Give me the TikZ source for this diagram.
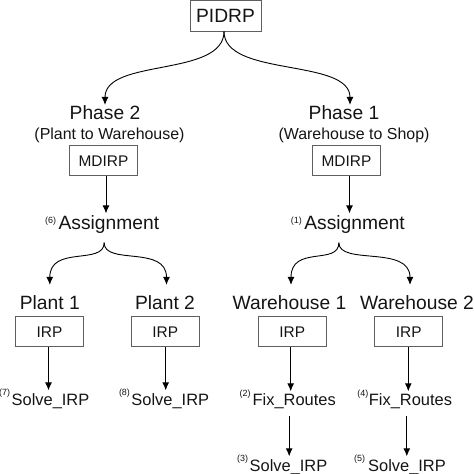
\documentclass[tikz,border=0pt]{standalone}
\usepackage{fontspec}
\setmainfont{Liberation Sans}
\usetikzlibrary{arrows.meta}
\newcommand{\FBig}{\fontsize{19.3}{23}\selectfont}
\newcommand{\FMid}{\fontsize{16}{19}\selectfont}
\newcommand{\FBox}{\fontsize{15.5}{18}\selectfont}
\newcommand{\FSol}{\fontsize{16.5}{19}\selectfont}
\newcommand{\suplab}[2]{\raisebox{#1}{\fontsize{9}{9}\selectfont #2}}
\definecolor{boxgray}{RGB}{95,95,95}
\definecolor{ink}{RGB}{20,20,20}
\begin{document}
\begin{tikzpicture}[x=1bp,y=-1bp,
  box/.style={draw=boxgray,line width=0.9bp,inner sep=0,text=ink},
  txt/.style={inner sep=0,text=ink},
  arr/.style={draw=black,line width=0.9bp,-{Latex[length=8bp,width=7bp]}}]
\useasboundingbox (0,0) rectangle (474,474);
% top
\node[box,minimum width=71bp,minimum height=31bp,font=\FBig] (pidrp) at (225.5,15.5) {PIDRP};
% phase nodes
\node[txt,anchor=base,font=\FBig] (ph2) at (105,120) {Phase 2};
\node[txt,anchor=base,font=\FMid] (ph2s) at (109.5,139.5) {(Plant to Warehouse)};
\node[txt,anchor=base,font=\FBig] (ph1) at (344,120) {Phase 1};
\node[txt,anchor=base,font=\FMid] (ph1s) at (354,139.5) {(Warehouse to Shop)};
\node[box,minimum width=68bp,minimum height=30bp,font=\FBox] (md2) at (103.5,160.7) {MDIRP};
\node[box,minimum width=68bp,minimum height=30bp,font=\FBox] (md1) at (346.5,160.7) {MDIRP};
% assignments
\node[txt,anchor=base west,font=\FBig] (asg6) at (45,229.5) {\suplab{6bp}{(6)}\hspace{2.5bp}Assignment};
\node[txt,anchor=base west,font=\FBig] (asg1) at (290.7,229.5) {\suplab{6bp}{(1)}\hspace{2.5bp}Assignment};
% level 2
\node[txt,anchor=base,font=\FBig] (p1) at (49.8,309) {Plant 1};
\node[txt,anchor=base,font=\FBig] (p2) at (165,309) {Plant 2};
\node[txt,anchor=base,font=\FBig] (w1) at (289.5,309) {Warehouse 1};
\node[txt,anchor=base west,font=\FBig] (w2) at (360,309) {Warehouse 2};
\node[box,minimum width=68bp,minimum height=30bp,font=\FBox] (irp1) at (49.5,331.7) {IRP};
\node[box,minimum width=68bp,minimum height=30bp,font=\FBox] (irp2) at (165.2,331.7) {IRP};
\node[box,minimum width=68bp,minimum height=30bp,font=\FBox] (irp3) at (292.2,331.7) {IRP};
\node[box,minimum width=68bp,minimum height=30bp,font=\FBox] (irp4) at (408.8,331.7) {IRP};
% leaves
\node[txt,anchor=base west,font=\FSol] (s7) at (-1,405.5) {\suplab{10.5bp}{(7)}\hspace{1.5bp}Solve\_IRP};
\node[txt,anchor=base west,font=\FSol] (s8) at (118.8,405.5) {\suplab{10.5bp}{(8)}\hspace{1.5bp}Solve\_IRP};
\node[txt,anchor=base west,font=\FSol] (f2) at (239.5,405.5) {\suplab{9.5bp}{(2)}\hspace{2bp}Fix\_Routes};
\node[txt,anchor=base west,font=\FSol] (f4) at (357.2,405.5) {\suplab{9.5bp}{(4)}\hspace{0.5bp}Fix\_Routes};
\node[txt,anchor=base west,font=\FSol] (s3) at (237,471) {\suplab{10bp}{(3)}\hspace{1.5bp}Solve\_IRP};
\node[txt,anchor=base west,font=\FSol] (s5) at (354,471) {\suplab{10bp}{(5)}\hspace{3bp}Solve\_IRP};
% connectors
\draw[arr] ([xshift=-1.5bp]pidrp.south) .. controls +(0,46) and +(0,-47) .. ([yshift=1bp]ph2.north);
\draw[arr] ([xshift=-1.5bp]pidrp.south) .. controls +(0,46) and +(0,-47) .. ([xshift=6bp,yshift=1bp]ph1.north);
\draw[arr] ([xshift=2.5bp]md2.south) -- ([xshift=2.5bp,yshift=2bp]md2.south |- asg6.north);
\draw[arr] ([xshift=3bp]md1.south) -- ([xshift=3bp,yshift=2bp]md1.south |- asg1.north);
\draw[arr] ([xshift=2bp,yshift=-9bp]asg6.south) .. controls +(0,23) and +(0,-40) .. ([yshift=10bp]p1.north);
\draw[arr] ([xshift=2bp,yshift=-9bp]asg6.south) .. controls +(0,23) and +(0,-40) .. ([xshift=1.5bp,yshift=10bp]p2.north);
\draw[arr] ([xshift=-9bp,yshift=-9bp]asg1.south) .. controls +(0,23) and +(0,-40) .. ([xshift=1.5bp,yshift=10bp]w1.north);
\draw[arr] ([xshift=-9bp,yshift=-9bp]asg1.south) .. controls +(0,23) and +(0,-40) .. ([xshift=50bp,yshift=10bp]w2.north west);
\draw[arr,shorten >=-2bp] ([xshift=-1bp]irp1.south) -- ([xshift=-1bp]irp1.south |- s7.north);
\draw[arr,shorten >=-2bp] ([xshift=0.5bp]irp2.south) -- ([xshift=0.5bp]irp2.south |- s8.north);
\draw[arr,shorten >=-2bp] ([xshift=-1.5bp]irp3.south) -- ([xshift=-1.5bp]irp3.south |- f2.north);
\draw[arr,shorten >=-2bp] ([xshift=-0.5bp]irp4.south) -- ([xshift=-0.5bp]irp4.south |- f4.north);
\draw[arr,shorten >=-2bp] ([xshift=-3bp,yshift=-7bp]f2.south -| irp3.south) -- ([xshift=-3bp]irp3.south |- s3.north);
\draw[arr,shorten >=-2bp] ([xshift=-2bp,yshift=-7bp]f4.south -| irp4.south) -- ([xshift=-2bp]irp4.south |- s5.north);
\end{tikzpicture}
\end{document}
